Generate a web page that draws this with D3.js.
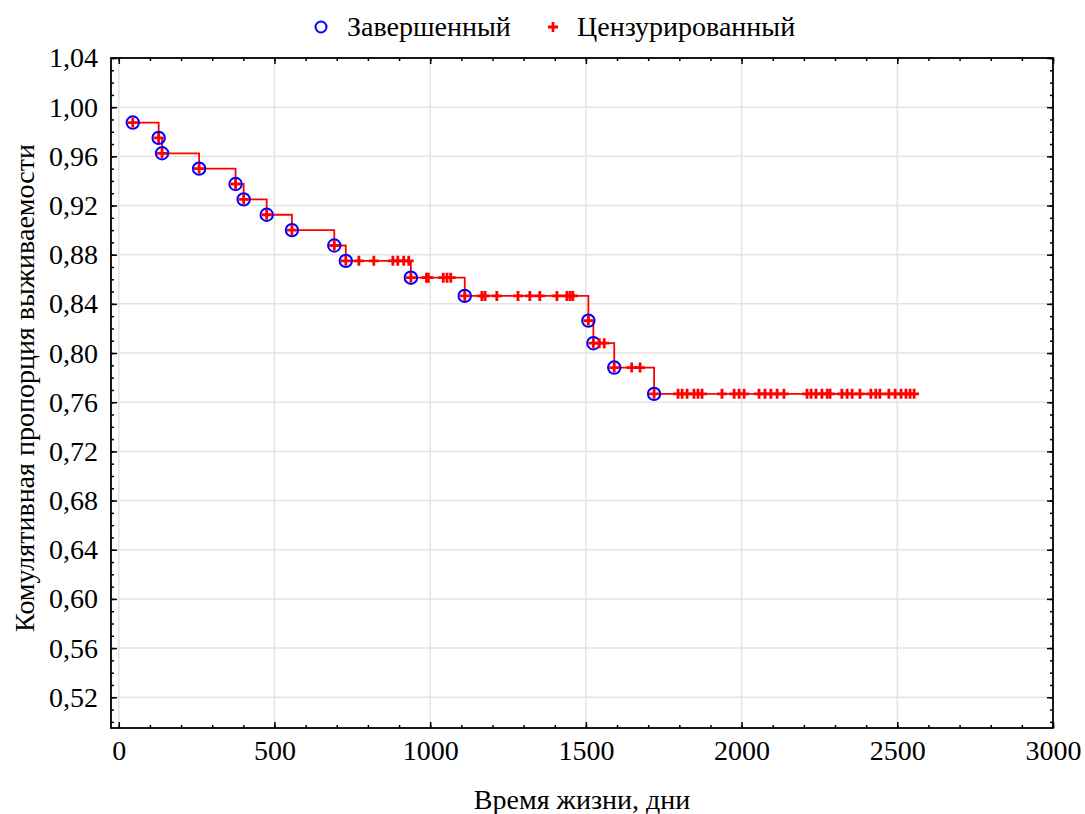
<!DOCTYPE html>
<html>
<head>
<meta charset="utf-8">
<script src="https://cdn.jsdelivr.net/npm/d3@7"></script>
<style>
  html, body { margin: 0; padding: 0; background: #fff; }
  svg { display: block; }
  svg text { font-family: "Liberation Serif", "Times New Roman", serif; fill: #000; }
</style>
</head>
<body>
<svg id="chart" width="1085" height="814"></svg>
<script>
// Kaplan–Meier survival estimate: completed (event) observations
const eventTimes = [45, 128, 139, 258, 375, 401, 475, 556, 692, 729, 938, 1111, 1508, 1524, 1591, 1719];
const eventSurv  = [0.9875, 0.975, 0.9625, 0.95, 0.9375, 0.925, 0.9125, 0.90, 0.8875, 0.875,
                    0.8613, 0.8465, 0.8264, 0.8080, 0.7882, 0.7668];

// Censored observations (days)
const censorTimes = [
  771, 819, 880, 896, 915, 931,
  988, 994, 1042, 1054, 1066,
  1166, 1176, 1214, 1282, 1320, 1352, 1407, 1439, 1449, 1458,
  1543, 1559,
  1647, 1674,
  1796, 1809, 1825, 1847, 1860, 1873, 1937, 1976, 1992, 2008, 2056, 2075, 2094, 2114, 2136,
  2210, 2223, 2239, 2258, 2275, 2284, 2322, 2339, 2355, 2380, 2415, 2431, 2444, 2473,
  2493, 2512, 2528, 2541, 2554
];

const yTicks = [0.52, 0.56, 0.60, 0.64, 0.68, 0.72, 0.76, 0.80, 0.84, 0.88, 0.92, 0.96, 1.00, 1.04];
const xTicks = [0, 500, 1000, 1500, 2000, 2500, 3000];

const legendLabels = ["Завершенный", "Цензурированный"];
const xTitle = "Время жизни, дни";
const yTitle = "Комулятивная пропорция выживаемости";

(function () {
const svg = d3.select("#chart");
const pLeft = 111, pRight = 1053, pTop = 58, pBottom = 728;
const FS = 28;

const x = d3.scaleLinear().domain([-25, 3000]).range([pLeft, pRight]);
const y = d3.scaleLinear().domain([0.495, 1.04]).range([pBottom, pTop]);

const fmtY = v => d3.format(".2f")(v).replace(".", ",");

// survival value of the step function at time t
function survAt(t) {
  let s = 1;
  for (let i = 0; i < eventTimes.length; i++) if (eventTimes[i] <= t) s = eventSurv[i];
  return s;
}

// grid
const grid = svg.append("g").attr("stroke", "#e3e3e3").attr("stroke-width", 1.5);
xTicks.forEach(t => grid.append("line")
  .attr("x1", x(t)).attr("x2", x(t)).attr("y1", pTop).attr("y2", pBottom));
yTicks.forEach(t => grid.append("line")
  .attr("x1", pLeft).attr("x2", pRight).attr("y1", y(t)).attr("y2", y(t)));

// axes with inward ticks on all four sides
const yMinor = d3.range(50, 105).map(v => v / 100);
const xMinor = d3.range(0, 3001, 100);

function addAxis(gen, tr, major, minor, labels, pad) {
  const gMinor = svg.append("g").attr("transform", tr)
    .call(gen.tickValues(minor).tickSize(-3).tickFormat(""));
  gMinor.select(".domain").remove();
  gMinor.selectAll("line").attr("stroke", "#000").attr("stroke-width", 1.5);
  const g = svg.append("g").attr("transform", tr)
    .call(gen.tickValues(major).tickSize(-6).tickSizeOuter(0).tickPadding(pad || 0)
      .tickFormat(labels || ""));
  g.attr("font-family", null).attr("font-size", FS);
  g.select(".domain").remove();
  g.selectAll("line").attr("stroke", "#000").attr("stroke-width", 1.5);
  g.selectAll("text").attr("font-size", FS);
  return g;
}
addAxis(d3.axisLeft(y), `translate(${pLeft},0)`, yTicks, yMinor, fmtY, 13);
addAxis(d3.axisRight(y), `translate(${pRight},0)`, yTicks, yMinor, null);
addAxis(d3.axisBottom(x), `translate(0,${pBottom})`, xTicks, xMinor, d3.format("d"), 12);
addAxis(d3.axisTop(x), `translate(0,${pTop})`, xTicks, xMinor, null);

// frame
svg.append("rect").attr("x", pLeft).attr("y", pTop)
  .attr("width", pRight - pLeft).attr("height", pBottom - pTop)
  .attr("fill", "none").attr("stroke", "#000").attr("stroke-width", 1.8);

// step curve
const stepPts = eventTimes.map((t, i) => [t, eventSurv[i]]);
const lastT = d3.max(censorTimes);
stepPts.push([lastT, survAt(lastT)]);
svg.append("path")
  .datum(stepPts)
  .attr("fill", "none").attr("stroke", "#ff0000").attr("stroke-width", 1.8)
  .attr("d", d3.line().x(d => x(d[0])).y(d => y(d[1])).curve(d3.curveStepAfter));

// plus marker
function plus(g, cx, cy, h) {
  g.append("path")
    .attr("d", `M${cx - h},${cy}H${cx + h}M${cx},${cy - h}V${cy + h}`)
    .attr("stroke", "#ff0000").attr("stroke-width", 2.8).attr("fill", "none");
}

// completed: circle with plus
const ev = svg.append("g");
eventTimes.forEach((t, i) => {
  ev.append("circle").attr("cx", x(t)).attr("cy", y(eventSurv[i])).attr("r", 6.2)
    .attr("fill", "none").attr("stroke", "#0000ff").attr("stroke-width", 2);
});
eventTimes.forEach((t, i) => plus(ev, x(t), y(eventSurv[i]), 5));

// censored: plus
const cg = svg.append("g");
censorTimes.forEach(t => plus(cg, x(t), y(survAt(t)), 5));

// legend
const lg = svg.append("g");
lg.append("circle").attr("cx", 321).attr("cy", 27).attr("r", 5.5)
  .attr("fill", "none").attr("stroke", "#0000ff").attr("stroke-width", 2);
lg.append("text").attr("x", 347).attr("y", 36).attr("font-size", FS).text(legendLabels[0]);
plus(lg, 553, 27, 5);
lg.append("text").attr("x", 577).attr("y", 36).attr("font-size", FS).text(legendLabels[1]);

// axis titles
svg.append("text").attr("x", 582).attr("y", 809)
  .attr("text-anchor", "middle").attr("font-size", FS).text(xTitle);
svg.append("text")
  .attr("transform", "translate(34,388) rotate(-90)")
  .attr("text-anchor", "middle").attr("font-size", FS).text(yTitle);
})();
</script>
</body>
</html>
